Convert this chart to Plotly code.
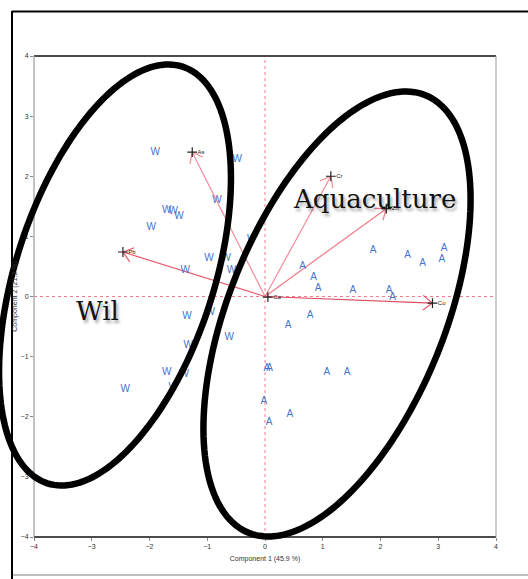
import math
import plotly.graph_objects as go

# ---------------- data ----------------
w_x = [-1.90, -0.48, -0.83, -1.70, -1.59, -1.49, -1.97, -0.23, -0.97, -0.67,
       -0.58, -1.38, -1.35, -0.95, -0.62, -1.33, -1.70, -1.40, -1.59, -2.42]
w_y = [2.40, 2.28, 1.60, 1.43, 1.41, 1.33, 1.15, 0.94, 0.63, 0.63,
       0.43, 0.43, -0.33, -0.26, -0.68, -0.82, -1.27, -1.30, -1.51, -1.55]

a_x = [0.65, 0.84, 0.92, 1.52, 2.15, 2.21, 1.87, 2.47, 2.73, 3.10,
       3.06, 0.78, 0.40, 0.03, 0.08, 1.07, 1.42, -0.02, 0.43, 0.07]
a_y = [0.50, 0.32, 0.14, 0.10, 0.10, -0.02, 0.77, 0.68, 0.55, 0.80,
       0.62, -0.32, -0.48, -1.20, -1.20, -1.26, -1.26, -1.75, -1.96, -2.10]

var_names = ["As", "Pb", "Cr", "Zn", "Cu", "Ca"]
var_x = [-1.26, -2.46, 1.14, 2.10, 2.90, 0.05]
var_y = [2.40, 0.74, 2.00, 1.46, -0.11, -0.01]

tick_vals = [-4, -3, -2, -1, 0, 1, 2, 3, 4]
x_title = "Component 1 (45.9 %)"
y_title = "Component 2 (21.3 %)"

# ---------------- layout geometry ----------------
W, H = 528, 579
# target plot-area edges in window pixels (body margin removed below)
PL, PR, PT, PB = 34, 496, 56, 537
ML, MT = PL, PT
MR, MB = W - PR, H - PB
PW, PH = PR - PL, PB - PT
XR, YR = [-4, 4], [-4, 4]
sx = PW / (XR[1] - XR[0])
sy = PH / (YR[1] - YR[0])

def px2paper(px, py):
    return (px - PL) / PW, (PB - py) / PH

fig = go.Figure()

# zero lines
fig.add_shape(type="line", xref="x", yref="y", x0=XR[0], x1=XR[1], y0=0, y1=0,
              line=dict(color="#f07c8c", width=1, dash="dot"), layer="below")
fig.add_shape(type="line", xref="x", yref="y", x0=0, x1=0, y0=YR[0], y1=YR[1],
              line=dict(color="#f07c8c", width=1, dash="dot"), layer="below")

# loading vectors
vec_colors = ["#f48c98", "#e85a6e", "#f48c98", "#f07a88", "#e04a62", "#f07a88"]
for name, vx, vy, col in zip(var_names, var_x, var_y, vec_colors):
    fig.add_trace(go.Scatter(x=[0, vx], y=[0, vy], mode="lines",
                             line=dict(color=col, width=1.2), hoverinfo="skip",
                             showlegend=False))
    dxp, dyp = vx * sx, vy * sy
    L = math.hypot(dxp, dyp)
    if L > 20:
        ux, uy = dxp / L, dyp / L
        ang = math.radians(38)
        hl = 12
        hx, hy = [], []
        for s in (1, -1):
            c, si = math.cos(s * ang), math.sin(s * ang)
            rx = -(ux * c - uy * si)
            ry = -(ux * si + uy * c)
            hx += [vx + rx * hl / sx, vx, None]
            hy += [vy + ry * hl / sy, vy, None]
        fig.add_trace(go.Scatter(x=hx, y=hy, mode="lines",
                                 line=dict(color=col, width=1.2), hoverinfo="skip",
                                 showlegend=False))

fig.add_trace(go.Scatter(x=var_x, y=var_y, mode="markers+text", text=var_names,
                         textposition="middle right",
                         textfont=dict(size=6, color="#222", family="Liberation Sans"),
                         marker=dict(symbol="cross-thin", size=7,
                                     line=dict(color="#222", width=1.2)),
                         hoverinfo="skip", showlegend=False))

# observations
fig.add_trace(go.Scatter(x=w_x, y=w_y, mode="text", text=["W"] * len(w_x),
                         textfont=dict(size=10, color="#4673cc", family="Liberation Sans"),
                         showlegend=False))
fig.add_trace(go.Scatter(x=a_x, y=a_y, mode="text", text=["A"] * len(a_x),
                         textfont=dict(size=10, color="#4673cc", family="Liberation Sans"),
                         showlegend=False))

# plot box borders
def pline(x0, y0, x1, y1, color, width):
    p0 = px2paper(x0, y0)
    p1 = px2paper(x1, y1)
    fig.add_shape(type="line", xref="paper", yref="paper",
                  x0=p0[0], y0=p0[1], x1=p1[0], y1=p1[1],
                  line=dict(color=color, width=width))

pline(PL, PT, PR, PT, "#111", 1.3)
pline(PL, PB, PR, PB, "#111", 1.3)
pline(PL, PT, PL, PB, "#888", 1)
pline(PR, PT, PR, PB, "#999", 1)

# outer frame
pline(12, 11.5, W + 2, 11.5, "#000", 2)
pline(12, 11, 12, H + 2, "#000", 2)
pline(13, 575, W + 2, 575, "#aaa", 1.5)

# hand-drawn ellipses (window-pixel parameters)
ellipses = [
    dict(cx=115, cy=275, a=219, b=99, tilt=18),
    dict(cx=337, cy=314, a=236, b=108, tilt=22),
]
for e in ellipses:
    t = math.radians(e["tilt"])
    pts = []
    for k in range(181):
        th = 2 * math.pi * k / 180
        u = e["b"] * math.cos(th)
        v = e["a"] * math.sin(th)
        px = e["cx"] + u * math.cos(t) + v * math.sin(t)
        py = e["cy"] + u * math.sin(t) - v * math.cos(t)
        pts.append(px2paper(px, py))
    path = "M " + " L ".join(f"{p[0]:.5f},{p[1]:.5f}" for p in pts) + " Z"
    fig.add_shape(type="path", xref="paper", yref="paper", path=path,
                  line=dict(color="#000", width=6.5))

# group labels
for txt, px, py in [("Wil", 97, 311), ("Aquaculture", 374, 199)]:
    xp, yp = px2paper(px, py)
    fig.add_annotation(x=xp, y=yp, xref="paper", yref="paper", text=txt,
                       showarrow=False, xanchor="center", yanchor="middle",
                       font=dict(family="DejaVu Serif", size=26, color="#111",
                                 shadow="2px 3px 3px rgba(0,0,0,0.35)"))

axis_common = dict(range=XR, tickvals=tick_vals, ticks="outside", ticklen=3,
                   tickcolor="#888", showgrid=False, zeroline=False,
                   showline=False, tickfont=dict(size=7, color="#333",
                                                 family="Liberation Sans"))
fig.update_layout(
    width=W, height=H,
    margin=dict(l=ML, r=MR, t=MT, b=MB),
    paper_bgcolor="white", plot_bgcolor="white",
    xaxis=dict(axis_common, title=dict(text=x_title, standoff=6,
                                       font=dict(size=7, color="#333",
                                                 family="Liberation Sans"))),
    yaxis=dict(axis_common, range=YR,
               title=dict(text=y_title, standoff=2,
                          font=dict(size=7, color="#333",
                                    family="Liberation Sans"))),
    showlegend=False,
)

fig.write_html("out.html", config={"displayModeBar": False},
               post_script="document.body.style.margin='0';"
                           "document.body.style.overflow='hidden';")
